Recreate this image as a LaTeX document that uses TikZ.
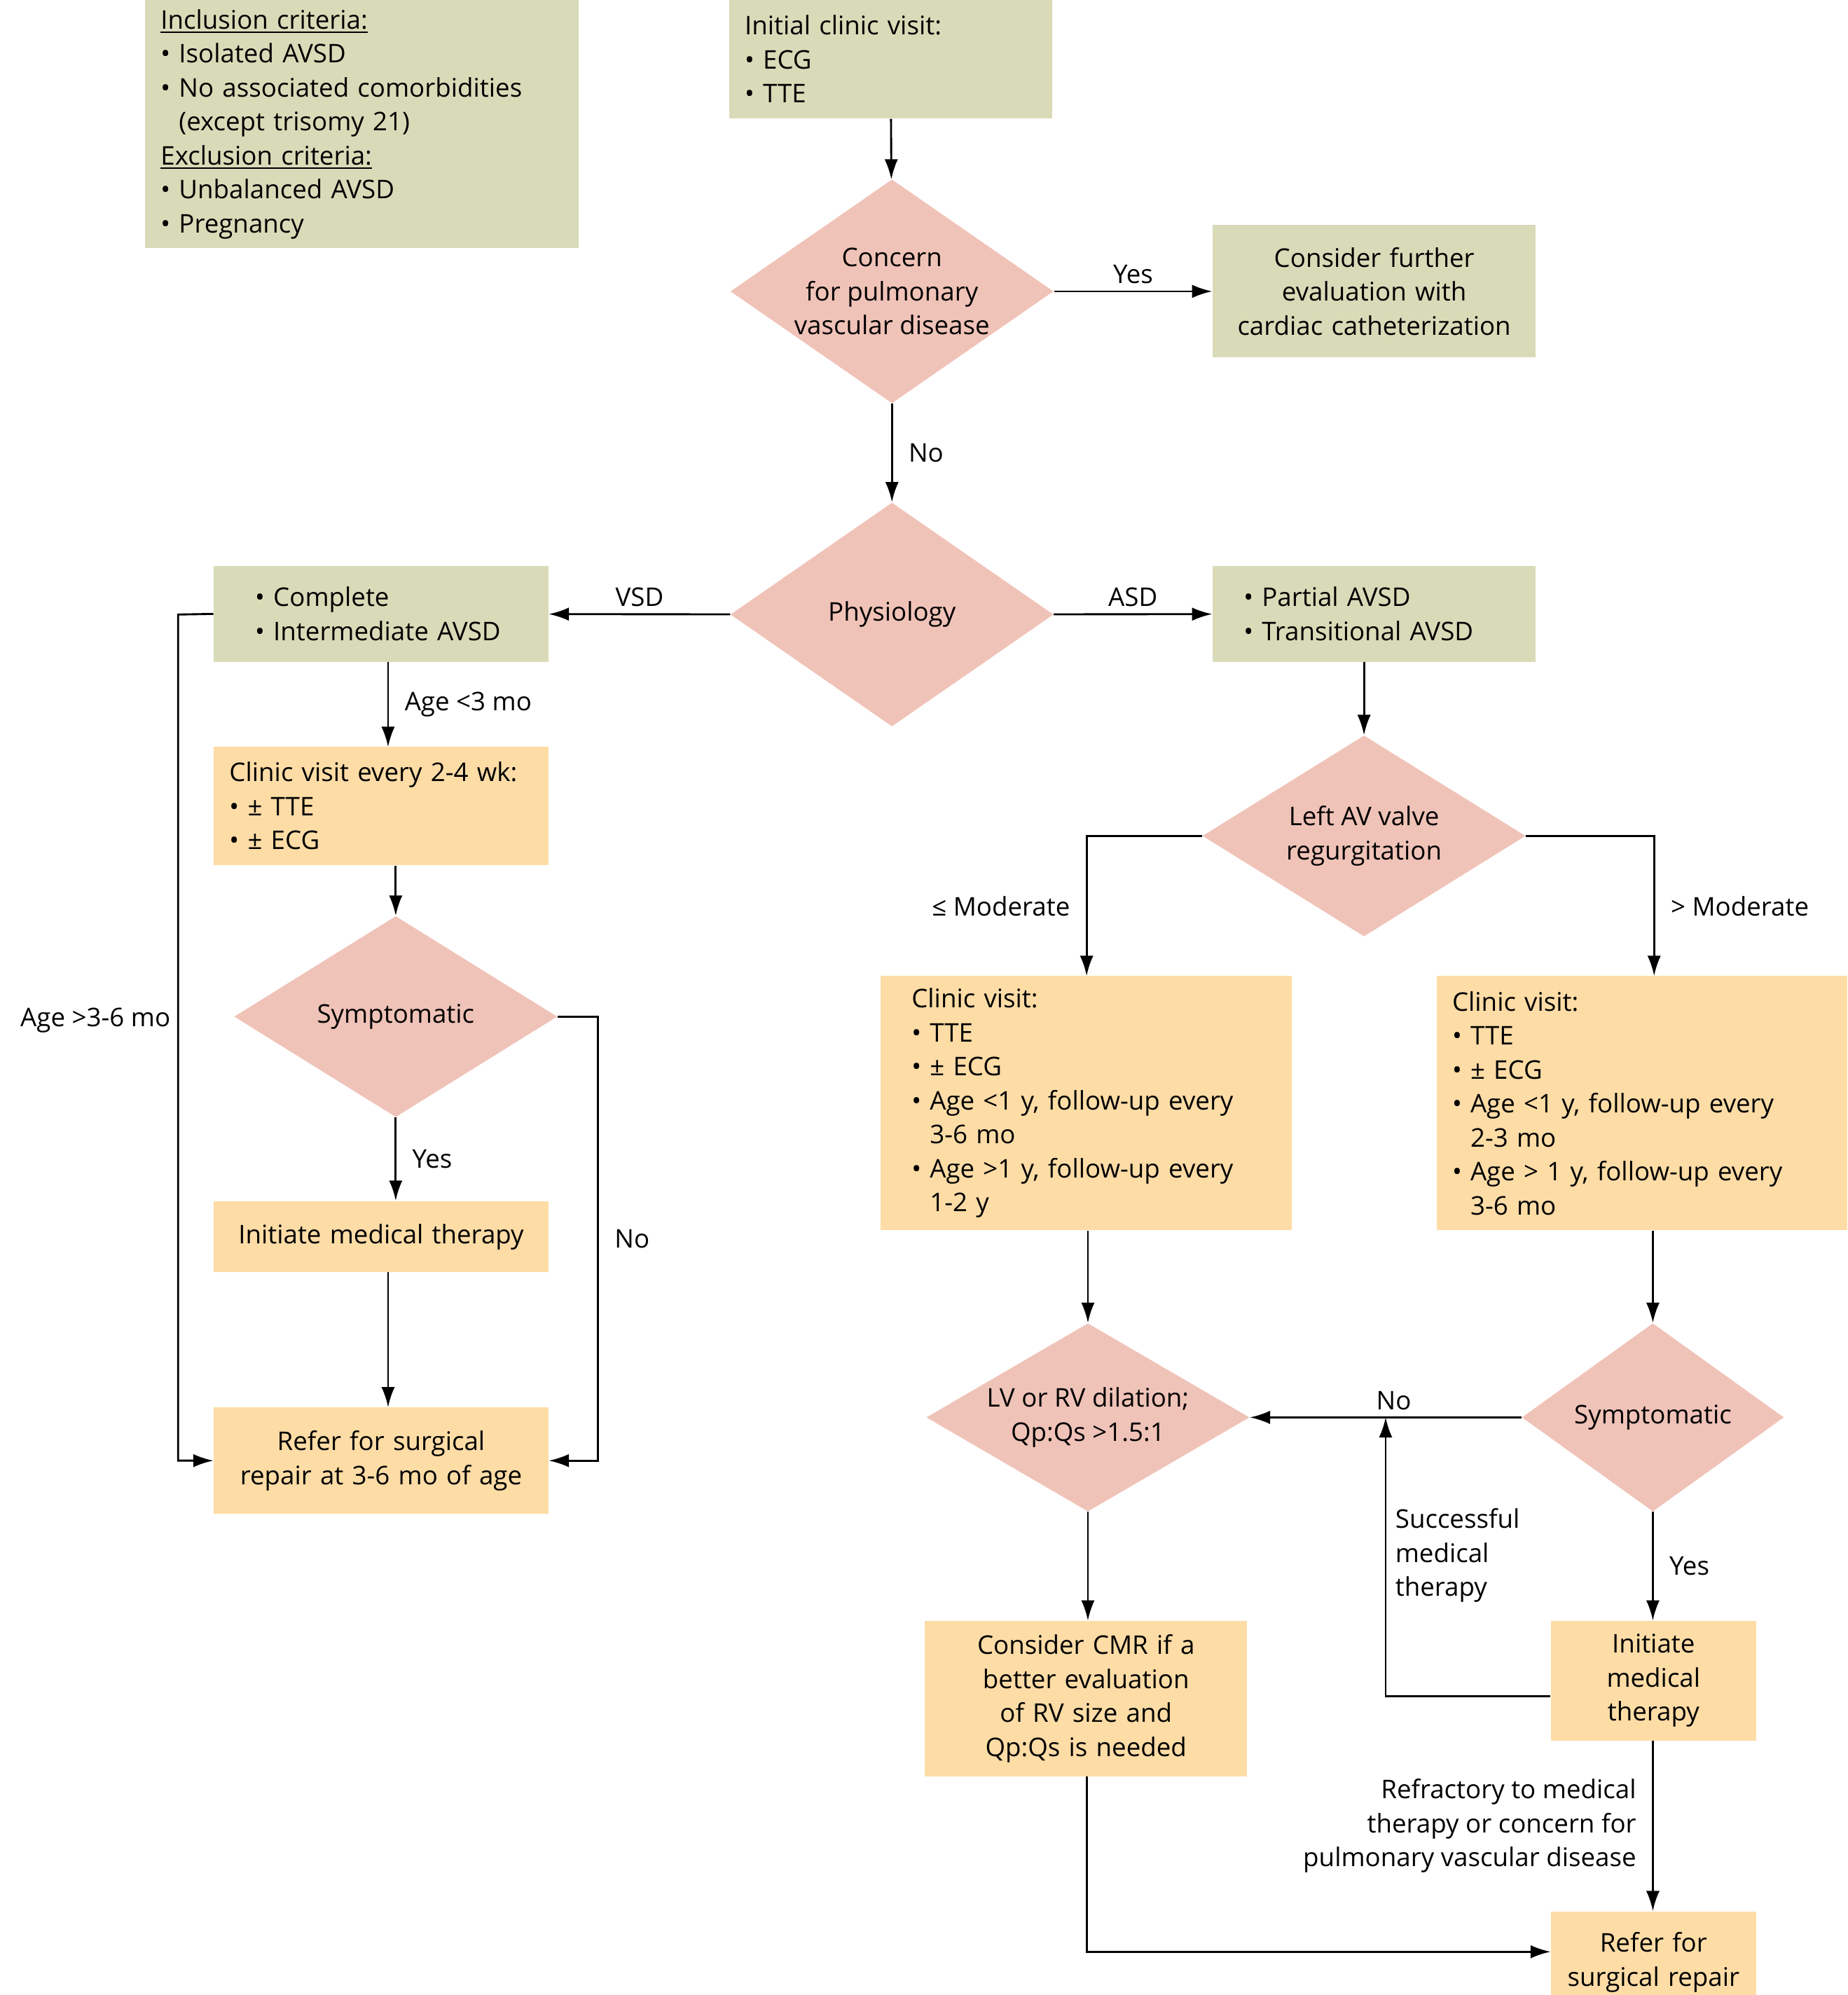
\documentclass[tikz,border=0pt]{standalone}
\usepackage{fontspec}
\setmainfont{Open Sans}
\usetikzlibrary{shapes.geometric,arrows.meta}
\definecolor{boxgreen}{HTML}{D9DBB8}
\definecolor{boxorange}{HTML}{FDDCA6}
\definecolor{diapink}{HTML}{F0C3B8}
\tikzset{
  u/.style={x=0.02cm,y=-0.02cm},
  gbox/.style={fill=boxgreen,draw=none,inner xsep=7pt,inner ysep=3pt},
  obox/.style={fill=boxorange,draw=none,inner xsep=7pt,inner ysep=3pt},
  bx/.style 2 args={minimum width={#1*0.02cm},minimum height={#2*0.02cm},text width={#1*0.02cm-14pt}},
  dia/.style={diamond,fill=diapink,draw=none,inner sep=0pt},
  dsize/.style 2 args={minimum width={#1*0.02cm},minimum height={#2*0.02cm}},
  dtext/.style={align=center},
  arr/.style={-{Latex[length=9pt,width=6pt]},line width=0.9pt},
  lab/.style={inner sep=3pt}
}
\begin{document}
\begin{tikzpicture}[u,font=\fontsize{11.5}{15.2}\selectfont]
\useasboundingbox (0,0) rectangle (1452,1568);
% top row
\node[gbox,bx={341}{195},align=left] (incl) at (284.5,97.5)
  {\underline{Inclusion criteria:}\\ • Isolated AVSD\\ • No associated comorbidities\\ \hphantom{• }(except trisomy 21)\\ \underline{Exclusion criteria:}\\ • Unbalanced AVSD\\ • Pregnancy};
\node[gbox,bx={254}{93},align=left] (init) at (700,46.5)
  {Initial clinic visit:\\ • ECG\\ • TTE};
\node[dia,dsize={254}{176}] (concern) at (701,229) {};
\node[dtext] at (concern) {Concern\\ for pulmonary\\ vascular disease};
\node[gbox,bx={254}{104},align=center] (cath) at (1080,229)
  {Consider further\\ evaluation with\\ cardiac catheterization};
% physiology split
\node[dia,dsize={254}{176}] (phys) at (701,483) {};
\node[dtext] at (phys) {Physiology};
\node[gbox,bx={263}{75},align=left] (compl) at (299.5,482.5)
  {\hspace{1em}• Complete\\ \hspace{1em}• Intermediate AVSD};
\node[gbox,bx={254}{75},align=left] (partial) at (1080,482.5)
  {\hspace{0.6em}• Partial AVSD\\ \hspace{0.6em}• Transitional AVSD};
% left branch
\node[obox,bx={263}{93},align=left] (clinL) at (299.5,633.5)
  {Clinic visit every 2-4 wk:\\ • ± TTE\\ • ± ECG};
\node[dia,dsize={254}{158}] (sympL) at (311,799) {};
\node[dtext] at (sympL) {Symptomatic};
\node[obox,bx={263}{56},align=center] (initL) at (299.5,972) {Initiate medical therapy};
\node[obox,bx={263}{84},align=center] (referL) at (299.5,1148) {Refer for surgical\\ repair at 3-6 mo of age};
% right branch
\node[dia,dsize={254}{158}] (lav) at (1072,657) {};
\node[dtext] at (lav) {Left AV valve\\ regurgitation};
\node[obox,bx={323}{200},align=left] (clinA) at (853.5,867)
  {\hspace{0.6em}Clinic visit:\\ \hspace{0.6em}• TTE\\ \hspace{0.6em}• ± ECG\\ \hspace{0.6em}• Age <1 y, follow-up every\\ \hspace{0.6em}\hphantom{• }3-6 mo\\ \hspace{0.6em}• Age >1 y, follow-up every\\ \hspace{0.6em}\hphantom{• }1-2 y};
\node[obox,bx={323}{200},align=left] (clinB) at (1290.5,867)
  {Clinic visit:\\ • TTE\\ • ± ECG\\ • Age <1 y, follow-up every\\ \hphantom{• }2-3 mo\\ • Age > 1 y, follow-up every\\ \hphantom{• }3-6 mo};
\node[dia,dsize={254}{148}] (lvrv) at (855,1114) {};
\node[dtext] at (lvrv) {LV or RV dilation;\\ Qp:Qs >1.5:1};
\node[dia,dsize={206}{148}] (sympR) at (1299,1114) {};
\node[dtext] at (sympR) {Symptomatic};
\node[obox,bx={253}{122},align=center] (cmr) at (853.5,1335)
  {Consider CMR if a\\ better evaluation\\ of RV size and\\ Qp:Qs is needed};
\node[obox,bx={161}{94},align=center] (initR) at (1299.5,1321) {Initiate\\ medical\\ therapy};
\node[obox,bx={161}{80},align=center,anchor=north] (referR) at (1299.5,1502) {Refer for\\ surgical repair};
\coordinate (succ) at (1089,1114);
% connectors
\draw[arr] (init) -- (concern);
\draw[arr] (concern) -- node[lab,above] {Yes} (cath);
\draw[arr] (concern) -- node[lab,right,xshift=4pt] {No} (phys);
\draw[arr] (phys) -- node[lab,above] {VSD} (compl);
\draw[arr] (phys) -- node[lab,above] {ASD} (partial);
\draw[arr] (305,520) -- node[lab,right,xshift=4pt] {Age <3 mo} (305,587);
\draw[arr] (compl.west) -- (140,483) -- node[lab,left,pos=0.48] {Age >3-6 mo} (140,1148) -- (referL.west);
\draw[arr] (clinL.south -| sympL) -- (sympL.north);
\draw[arr] (sympL.south) -- node[lab,right,xshift=4pt] {Yes} (sympL.south |- initL.north);
\draw[arr] (305,1000) -- (305,1106);
\draw[arr] (sympL.east) -- (470,799) -- node[lab,right,xshift=4pt] {No} (470,1148) -- (referL.east);
\draw[arr] (partial.south -| lav) -- (lav.north);
\draw[arr] (lav.west) -- (854,657) -- node[lab,left,xshift=-4pt] {≤ Moderate} (854,767);
\draw[arr] (lav.east) -- (1300,657) -- node[lab,right,xshift=4pt] {> Moderate} (1300,767);
\draw[arr] (clinA.south -| lvrv) -- (lvrv.north);
\draw[arr] (clinB.south -| sympR) -- (sympR.north);
\draw[arr] (sympR.west) -- node[lab,above,pos=0.47] {No} (lvrv.east);
\draw[arr] (sympR.south) -- node[lab,right,xshift=4pt] {Yes} (initR.north -| sympR);
\draw[arr] (initR.west |- 1219,1333) -- (1089,1333) -- (succ);
\node[lab,align=left,anchor=north west] (succlab) at (1091,1180) {Successful\\ medical\\ therapy};
\draw[arr] (lvrv.south) -- (cmr.north -| lvrv);
\draw[arr] (cmr.south -| 854,0) -- (854,1534) -- (referR.west |- 1219,1534);
\draw[arr] (initR.south -| 1299,0) -- node[lab,left,xshift=-4pt,align=right] {Refractory to medical\\ therapy or concern for\\ pulmonary vascular disease} (1299,1502);
\end{tikzpicture}
\end{document}
